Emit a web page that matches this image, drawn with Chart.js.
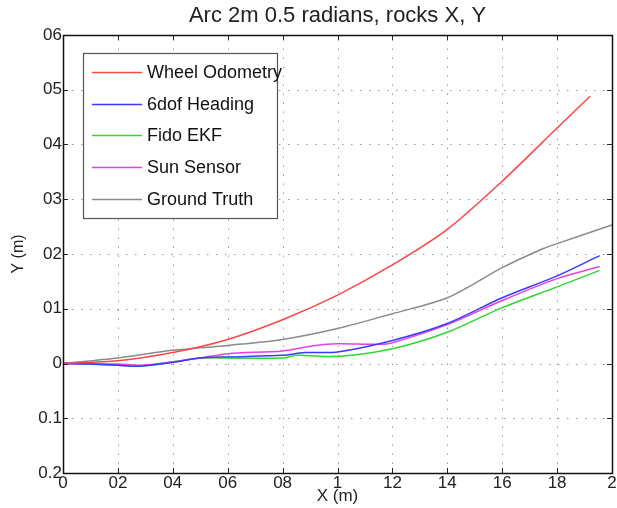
<!DOCTYPE html>
<html><head><meta charset="utf-8">
<script src="https://cdn.jsdelivr.net/npm/chart.js@4.4.0/dist/chart.umd.min.js"></script>
<style>html,body{margin:0;padding:0;background:#fff}#wrap{width:617px;height:508px}</style>
</head><body><div id="wrap"><canvas id="c"></canvas></div>
<script>
const titleText = "Arc 2m 0.5 radians, rocks X, Y";
const xTickLabels = {"0":"0","0.2":"02","0.4":"04","0.6":"06","0.8":"08","1":"1","1.2":"12","1.4":"14","1.6":"16","1.8":"18","2":"2"};
const yTickLabels = {"0.6":"06","0.5":"05","0.4":"04","0.3":"03","0.2":"02","0.1":"01","0":"0","-0.1":"0.1","-0.2":"0.2"};
const seriesNames = ["Wheel Odometry","6dof Heading","Fido EKF","Sun Sensor","Ground Truth"];
const wheelX = [0,0.2,0.4,0.6,0.8,1.0,1.2,1.4,1.6,1.8,1.92];
const wheelY = [0,0.005,0.02,0.044,0.08,0.125,0.18,0.245,0.333,0.43,0.488];
const headingX = [0,0.1,0.2,0.28,0.4,0.5,0.6,0.8,0.88,1.0,1.2,1.4,1.6,1.8,1.955];
const headingY = [0,-0.001,-0.003,-0.005,0.002,0.01,0.012,0.015,0.02,0.021,0.042,0.073,0.12,0.16,0.197];
const ekfX = [0,0.2,0.28,0.4,0.5,0.6,0.8,0.85,1.0,1.2,1.4,1.6,1.8,1.955];
const ekfY = [0,-0.003,-0.005,0.003,0.01,0.01,0.01,0.015,0.013,0.027,0.057,0.102,0.14,0.17];
const sunX = [0,0.2,0.28,0.4,0.5,0.6,0.8,0.92,1.0,1.15,1.2,1.4,1.6,1.8,1.955];
const sunY = [0,-0.001,-0.003,0.003,0.01,0.018,0.023,0.033,0.036,0.035,0.038,0.071,0.115,0.155,0.177];
const truthX = [0,0.2,0.4,0.6,0.8,1.0,1.2,1.4,1.6,1.75,1.8,2.0];
const truthY = [0,0.01,0.024,0.033,0.044,0.064,0.091,0.12,0.175,0.21,0.219,0.253];

const colors = ["#ff4444","#3a3aff","#2fd82f","#e440e4","#8a8a8a"];
const xs = [wheelX, headingX, ekfX, sunX, truthX];
const ys = [wheelY, headingY, ekfY, sunY, truthY];
const datasets = seriesNames.map((n,i)=>({
  label:n,
  data: xs[i].map((x,j)=>({x:x,y:ys[i][j]})),
  borderColor: colors[i], backgroundColor: colors[i],
  borderWidth:1.5, pointRadius:0, showLine:true, tension:0.3, fill:false
}));
datasets[0].order = 0; datasets[1].order = 1; datasets[3].order = 2; datasets[2].order = 3; datasets[4].order = 4;

const FONT = "'Liberation Sans', Arial, sans-serif";

const framePlugin = {
  id:'frame',
  beforeDatasetsDraw(chart){
    const {ctx, chartArea:a, scales:{x,y}} = chart;
    ctx.save();
    ctx.strokeStyle = '#9a9a9a'; ctx.lineWidth = 1;
    ctx.setLineDash([1.5,7.5]);
    x.ticks.forEach(t=>{ const px = Math.round(x.getPixelForValue(t.value))+0.5;
      if (px>a.left+2 && px<a.right-2){ ctx.beginPath(); ctx.moveTo(px,a.bottom); ctx.lineTo(px,a.top); ctx.stroke(); }});
    y.ticks.forEach(t=>{ const py = Math.round(y.getPixelForValue(t.value))+0.5;
      if (py>a.top+2 && py<a.bottom-2){ ctx.beginPath(); ctx.moveTo(a.left,py); ctx.lineTo(a.right,py); ctx.stroke(); }});
    ctx.restore();
  },
  afterDatasetsDraw(chart){
    const {ctx, chartArea:a, scales:{x,y}} = chart;
    ctx.save();
    ctx.strokeStyle = '#222'; ctx.lineWidth = 1;
    const L = 5;
    x.ticks.forEach(t=>{ const px = Math.round(x.getPixelForValue(t.value))+0.5;
      ctx.beginPath(); ctx.moveTo(px,a.bottom); ctx.lineTo(px,a.bottom-L); ctx.moveTo(px,a.top); ctx.lineTo(px,a.top+L); ctx.stroke(); });
    y.ticks.forEach(t=>{ const py = Math.round(y.getPixelForValue(t.value))+0.5;
      ctx.beginPath(); ctx.moveTo(a.left,py); ctx.lineTo(a.left+L,py); ctx.moveTo(a.right,py); ctx.lineTo(a.right-L,py); ctx.stroke(); });
    ctx.lineWidth = 1.5; ctx.strokeStyle = '#111';
    ctx.strokeRect(Math.round(a.left)+0.5, Math.round(a.top)+0.5, Math.round(a.right-a.left), Math.round(a.bottom-a.top));
    // legend box
    const bx = a.left+20, by = a.top+18, bw = 194, bh = 165;
    ctx.fillStyle = '#fff'; ctx.fillRect(bx,by,bw,bh);
    ctx.lineWidth = 1.2; ctx.strokeStyle = '#555'; ctx.strokeRect(bx+0.5,by+0.5,bw,bh);
    ctx.font = "18px " + FONT; ctx.textBaseline = 'middle'; ctx.textAlign='left';
    chart.data.datasets.forEach((d,i)=>{
      const ly = Math.round(by + 19 + i*31.7);
      ctx.strokeStyle = d.borderColor; ctx.lineWidth = 1.5;
      ctx.beginPath(); ctx.moveTo(bx+9, ly+0.5); ctx.lineTo(bx+59, ly+0.5); ctx.stroke();
      ctx.fillStyle = '#111'; ctx.fillText(d.label, bx+64, ly+1);
    });
    ctx.restore();
  }
};

new Chart(document.getElementById('c'), {
  type:'scatter',
  data:{datasets},
  options:{
    responsive:true, maintainAspectRatio:false, animation:false,
    layout:{padding:{left:0,right:5,top:0,bottom:0}},
    plugins:{
      legend:{display:false}, tooltip:{enabled:false},
      title:{display:true, fullSize:false, text:titleText, color:'#222', font:{family:FONT, size:22, weight:'normal'}, padding:{top:3, bottom:5.6}}
    },
    scales:{
      x:{type:'linear', min:0, max:2,
        ticks:{stepSize:0.2, color:'#222', padding:0, font:{family:FONT,size:17}, maxRotation:0, autoSkip:false,
          callback:(v)=>{ const k = String(Math.round(v*10)/10); return xTickLabels[k] ?? ''; }},
        grid:{display:false, drawTicks:false}, border:{display:false},
        title:{display:true, text:'X (m)', color:'#222', font:{family:FONT,size:17}, padding:{top:0,bottom:1}},
        afterFit:(s)=>{ s.height = 35; }
      },
      y:{type:'linear', min:-0.2, max:0.6,
        ticks:{stepSize:0.1, color:'#222', padding:1, font:{family:FONT,size:17}, autoSkip:false,
          callback:(v)=>{ const k = String(Math.round(v*10)/10); return yTickLabels[k] ?? ''; }},
        grid:{display:false, drawTicks:false}, border:{display:false},
        title:{display:true, text:'Y (m)', color:'#222', font:{family:FONT,size:16}, padding:{top:9,bottom:0}},
        afterFit:(s)=>{ s.width = 63; }
      }
    }
  },
  plugins:[framePlugin]
});
</script>
</body></html>
